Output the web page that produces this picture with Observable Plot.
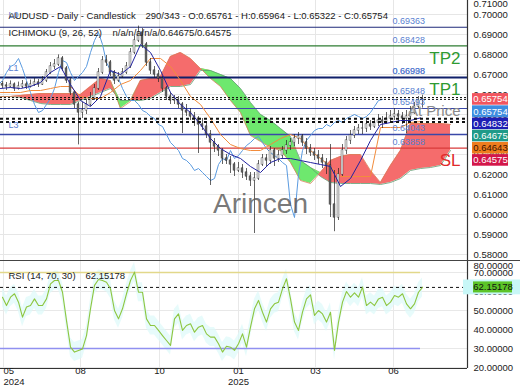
<!DOCTYPE html>
<html><head><meta charset="utf-8">
<script src="https://cdn.jsdelivr.net/npm/d3@7"></script>
<script src="https://cdn.jsdelivr.net/npm/@observablehq/plot@0.6"></script>
<style>
body{margin:0;background:#fff;font-family:"Liberation Sans",Arial,sans-serif;}
#wrap{width:520px;height:390px;overflow:hidden;}
#rsi{border-top:1px solid #444;}
svg{display:block;}
</style></head><body><div id="wrap"><div id="main"></div><div id="rsi"></div></div>
<script>
// ---------- DATA ----------
const closes = [
0.6645,0.6640,0.6650,0.6630,0.6640,0.6650,0.6640,0.6650,0.6660,0.6650,
0.6670,0.6710,0.6740,0.6750,0.6780,0.6730,0.6670,0.6610,0.6550,0.6510,
0.6520,0.6550,0.6580,0.6630,0.6710,0.6770,0.6760,0.6710,0.6670,0.6690,
0.6710,0.6740,0.6810,0.6870,0.6910,0.6850,0.6760,0.6720,0.6700,0.6680,
0.6630,0.6590,0.6570,0.6570,0.6550,0.6520,0.6510,0.6490,0.6480,0.6450,
0.6440,0.6400,0.6360,0.6340,0.6320,0.6280,0.6270,0.6250,0.6220,0.6230,
0.6210,0.6190,0.6170,0.6180,0.6250,0.6280,0.6270,0.6320,0.6280,0.6295,
0.6320,0.6345,0.6360,0.6380,0.6390,0.6360,0.6330,0.6310,0.6295,0.6280,
0.6260,0.6245,0.6050,0.5985,0.6200,0.6320,0.6370,0.6395,0.6420,0.6430,
0.6430,0.6450,0.6440,0.6460,0.6470,0.6460,0.6480,0.6490,0.6500,0.6490,
0.6480,0.6490,0.6510,0.6540,0.6570,0.65754];
const opens = [
0.6652,0.6645,0.6640,0.6650,0.6630,0.6640,0.6650,0.6640,0.6650,0.6660,
0.6650,0.6670,0.6710,0.6740,0.6750,0.6780,0.6730,0.6670,0.6610,0.6550,
0.6510,0.6520,0.6550,0.6580,0.6630,0.6710,0.6770,0.6760,0.6710,0.6670,
0.6690,0.6710,0.6740,0.6810,0.6870,0.6910,0.6850,0.6760,0.6720,0.6700,
0.6680,0.6630,0.6590,0.6570,0.6570,0.6550,0.6520,0.6510,0.6490,0.6480,
0.6450,0.6440,0.6400,0.6360,0.6340,0.6320,0.6280,0.6270,0.6250,0.6220,
0.6230,0.6210,0.6190,0.6170,0.6180,0.6250,0.6280,0.6270,0.6320,0.6280,
0.6295,0.6320,0.6345,0.6360,0.6380,0.6390,0.6360,0.6330,0.6310,0.6295,
0.6280,0.6260,0.6245,0.6050,0.5985,0.6200,0.6320,0.6370,0.6395,0.6420,
0.6430,0.6430,0.6450,0.6440,0.6460,0.6470,0.6460,0.6480,0.6490,0.6500,
0.6490,0.6480,0.6490,0.6510,0.6540,0.65761];
const highs = [
0.6665,0.6660,0.6668,0.6658,0.6662,0.6670,0.6662,0.6672,0.6680,0.6675,
0.6690,0.6725,0.6760,0.6775,0.6798,0.6790,0.6740,0.6680,0.6620,0.6560,
0.6560,0.6575,0.6610,0.6650,0.6730,0.6790,0.6795,0.6770,0.6720,0.6710,
0.6730,0.6760,0.6830,0.6890,0.6942,0.6930,0.6860,0.6780,0.6740,0.6720,
0.6690,0.6640,0.6610,0.6595,0.6590,0.6560,0.6550,0.6530,0.6510,0.6490,
0.6480,0.6460,0.6420,0.6380,0.6350,0.6330,0.6300,0.6290,0.6260,0.6260,
0.6250,0.6230,0.6210,0.6210,0.6270,0.6300,0.6300,0.6340,0.6330,0.6320,
0.6340,0.6370,0.6380,0.6400,0.6410,0.6400,0.6380,0.6350,0.6330,0.6320,
0.6300,0.6280,0.6350,0.6220,0.6230,0.6350,0.6390,0.6420,0.6440,0.6450,
0.6460,0.6470,0.6470,0.6480,0.6500,0.6490,0.6510,0.6520,0.6530,0.6520,
0.6510,0.6520,0.6540,0.6560,0.6590,0.65964];
const lows = [
0.6630,0.6620,0.6632,0.6615,0.6622,0.6630,0.6625,0.6632,0.6640,0.6635,
0.6645,0.6660,0.6700,0.6725,0.6740,0.6715,0.6655,0.6595,0.6530,0.6348,
0.6480,0.6500,0.6540,0.6570,0.6620,0.6700,0.6740,0.6690,0.6650,0.6660,
0.6680,0.6700,0.6730,0.6800,0.6860,0.6830,0.6740,0.6700,0.6680,0.6660,
0.6610,0.6570,0.6550,0.6550,0.6530,0.6405,0.6490,0.6470,0.6440,0.6305,
0.6420,0.6380,0.6145,0.6310,0.6290,0.6250,0.6250,0.6205,0.6190,0.6210,
0.6180,0.6170,0.6140,0.5905,0.6170,0.6240,0.6240,0.6250,0.6240,0.6260,
0.6280,0.6300,0.6320,0.6340,0.6350,0.6340,0.6300,0.6290,0.6270,0.6250,
0.6230,0.6200,0.5985,0.5914,0.5970,0.6190,0.6300,0.6350,0.6380,0.6400,
0.6400,0.6410,0.6420,0.6430,0.6440,0.6430,0.6450,0.6460,0.6470,0.6460,
0.6450,0.6405,0.6480,0.6500,0.6530,0.65322];

// Ichimoku lines, sampled every 2.5 candles
const tenkan = [
0.6630,0.6635,0.6630,0.6640,0.6660,0.6710,0.6740,0.6650,0.6570,0.6540,
0.6590,0.6720,0.6700,0.6740,0.6850,0.6810,0.6720,0.6610,0.6550,0.6510,
0.6450,0.6380,0.6330,0.6300,0.6280,0.6240,0.6210,0.6260,0.6280,0.6280,
0.6270,0.6260,0.6250,0.6240,0.6140,0.6180,0.6270,0.6370,0.6450,0.6460,
0.6470,0.6470,0.64832];
const kijun = [
0.6610,0.6610,0.6610,0.6620,0.6620,0.6630,0.6640,0.6640,0.6590,0.6580,
0.6580,0.6610,0.6650,0.6670,0.6720,0.6780,0.6780,0.6740,0.6670,0.6590,
0.6550,0.6480,0.6400,0.6350,0.6330,0.6320,0.6320,0.6350,0.6380,0.6400,
0.6380,0.6320,0.6280,0.6240,0.6190,0.6190,0.6190,0.6190,0.6435,0.6435,
0.6435,0.6460,0.64643];
const spanA = [
0.6590,0.6590,0.6585,0.6570,0.6555,0.6550,0.6550,0.6550,0.6570,0.6590,
0.6610,0.6630,0.6570,0.6570,0.6570,0.6580,0.6610,0.6640,0.6640,0.6650,
0.6720,0.6720,0.6700,0.6680,0.6630,0.6560,0.6500,0.6470,0.6430,0.6390,
0.6270,0.6235,0.6190,0.6160,0.6155,0.6155,0.6155,0.6155,0.6150,0.6160,
0.6180,0.6220,0.6230,0.6235,0.6245,0.6320];
const spanB = [
0.6590,0.6590,0.6595,0.6600,0.6605,0.6605,0.6605,0.6605,0.6600,0.6640,
0.6680,0.6670,0.6530,0.6565,0.6670,0.6680,0.6690,0.6790,0.6810,0.6780,
0.6730,0.6680,0.6640,0.6570,0.6510,0.6395,0.6365,0.6335,0.6320,0.6260,
0.6170,0.6155,0.6210,0.6270,0.6290,0.6300,0.6300,0.6220,0.6160,0.6245,
0.6320,0.6455,0.6455,0.6455,0.6455,0.6450];
const chikouShift = 10; // 26 daily bars

const rsi = [
57.0,52.6,57.0,58.8,54.4,46.5,51.8,52.6,56.1,52.6,
52.6,56.1,64.0,65.8,65.8,59.6,44.7,30.7,28.1,29.0,
29.8,36.8,50.9,63.2,66.3,65.8,64.9,61.4,50.0,45.6,
50.9,58.8,65.8,70.2,59.6,59.6,45.6,42.1,42.1,39.5,
36.8,34.2,31.6,45.6,48.2,39.5,42.1,43.0,38.6,41.2,
42.1,37.7,36.0,36.0,32.5,28.1,31.2,30.7,29.0,32.5,
37.7,30.7,41.2,50.9,55.3,49.1,43.9,50.9,53.5,54.4,
61.4,66.7,56.1,43.9,39.5,49.1,56.1,58.2,47.4,50.0,
48.2,43.9,49.1,29.0,43.9,54.4,60.0,57.0,59.3,57.0,
62.3,52.6,54.4,52.6,56.1,57.0,52.6,54.4,57.9,57.0,
58.8,53.5,50.9,53.5,59.6,62.15178];

// horizontal levels
const solidLevels = [0.69363, 0.68428, 0.66850, 0.65300, 0.64000, 0.63320];
const dottedThin = [0.65848, 0.65754];
const dottedThick = [0.64790, 0.64620];
const levelLabelText = ["0.69363","0.68428","0.66998","0.66938","0.65848","0.65493","0.64043","0.63858"];
const levelLabelAt = [0.69363, 0.68428, 0.66850, 0.66850, 0.65848, 0.65300, 0.64000, 0.63320];
const markerValues = [0.65754, 0.65754, 0.64832, 0.64675, 0.64643, 0.64575];
const rsiLast = 62.15178;

const monthTickBars = [0.25, 19.5, 39.25, 59, 78.25, 97.75];
const monthLabels = ["05","08","10","01","03","06"];
const yearLabels = ["2024","","","2025","",""];
const priceTicks = [0.58,0.59,0.60,0.61,0.62,0.63,0.64,0.65,0.66,0.67,0.68,0.69,0.70];
const rsiTicks = [20,30,40,50,60,70];

// ---------- LAYOUT ----------
const W = 520, MR = 53, MAINH = 260, RSIH = 129;
const xDomain = [-0.5, 116.25];
const yDomain = [0.577, 0.707];
const rsiDomain = [19.47, 75.79];
const FONT = "'Liberation Sans', Arial, sans-serif";
const style = {fontFamily: FONT, fontSize: "9.5px", background: "#fff", overflow: "hidden"};
const xs = Plot.scale({x: {domain: xDomain, range: [0, W - MR]}});
const ys = Plot.scale({y: {domain: yDomain, range: [MAINH, 0]}});
const fmt5 = d3.format(".5f");

const candles = closes.map((c, i) => ({i, c, o: opens[i], h: highs[i], l: lows[i]}));
const ichi = tenkan.map((t, k) => ({b: k * 2.5 - 0.5, t, kj: kijun[k]}));
const cloud = spanA.map((a, k) => ({b: k * 2.5 - 0.5, a, s: spanB[k]}));
const chikou = closes.map((c, i) => ({b: i - chikouShift, c}));

const markerFill = ["#f2555f", "#3d8de0", "#1e1eb4", "#1f9a88", "#ee7d1e", "#d3174a"];
const markerText = ["#fff", "#fff", "#fff", "#fff", "#3a1200", "#fff"];
let prev = -Infinity;
const boxes = markerValues.map((v, i) => {
  const p = Math.max(ys.apply(v), prev + 12.2); prev = p;
  return {v, p, i};
});
const solidStroke = ["#1f2a7a", "#2e7d32", "#10206a", "#3a48a8", "#3a48a8", "#d83a3a"];
const solidWidth = [1.2, 1.2, 2.2, 1, 1.3, 1.3];

const main = Plot.plot({
  width: W, height: MAINH, marginLeft: 0, marginRight: MR, marginTop: 0, marginBottom: 0,
  x: {domain: xDomain, axis: null},
  y: {domain: yDomain, axis: null},
  color: {type: "identity"},
  style,
  marks: [
    Plot.ruleY(priceTicks, {stroke: "#e6e6e6"}),
    Plot.ruleX(monthTickBars, {stroke: "#e6e6e6"}),
    // cloud
    Plot.areaY(cloud, {x: "b", y1: "a", y2: d => Math.max(d.a, d.s), fill: "#f56c6c", clip: true}),
    Plot.areaY(cloud, {x: "b", y1: "s", y2: d => Math.max(d.a, d.s), fill: "#6ee86e", clip: true}),
    Plot.line(cloud, {x: "b", y: "a", stroke: "#5e9a6e", strokeWidth: 0.8, clip: true}),
    Plot.line(cloud, {x: "b", y: "s", stroke: "#d9805a", strokeWidth: 0.8, clip: true}),
    // levels
    ...solidLevels.map((v, i) => Plot.ruleY([v], {stroke: solidStroke[i], strokeWidth: solidWidth[i]})),
    // ichimoku lines
    Plot.line(chikou, {x: "b", y: "c", stroke: "#5b9be0", strokeWidth: 1, clip: true}),
    Plot.line(ichi, {x: "b", y: "kj", stroke: "#f28c3c", strokeWidth: 1, clip: true}),
    // candles
    Plot.ruleX(candles, {x: "i", y1: "l", y2: "h", stroke: "#222", strokeWidth: 0.7}),
    Plot.rect(candles, {x1: d => d.i - 0.24, x2: d => d.i + 0.24,
      y1: d => Math.min(d.o, d.c) - 0.00008, y2: d => Math.max(d.o, d.c) + 0.00008,
      fill: d => d.c >= d.o ? "#f4f4f4" : "#6a6a6a", stroke: "#222", strokeWidth: 0.4}),
    Plot.line(ichi, {x: "b", y: "t", stroke: "#2323a0", strokeWidth: 1, clip: true}),
    // dotted levels
    Plot.ruleY(dottedThin, {stroke: "#111", strokeWidth: 1, strokeDasharray: "2,2"}),
    Plot.ruleY(dottedThick, {stroke: "#111", strokeWidth: 2, strokeDasharray: "3,3"}),
    // level labels
    Plot.text(levelLabelAt, {y: d => d, text: (d, i) => levelLabelText[i], frameAnchor: "right",
      dx: -75, dy: -6, textAnchor: "start", fill: "#5a7fd0", fontSize: 9}),
    Plot.text(["L0", "L1", "L3"], {y: [0.6995, 0.6730, 0.6445], text: d => d, frameAnchor: "left",
      dx: 8, textAnchor: "start", fill: "#5a7fd0", fontSize: 9}),
    // annotations
    Plot.text(["TP2"], {y: [0.6780], text: d => d, frameAnchor: "right", dx: -7, textAnchor: "end", fill: "#2e9a32", fontSize: 17}),
    Plot.text(["TP1"], {y: [0.6625], text: d => d, frameAnchor: "right", dx: -7, textAnchor: "end", fill: "#2e9a32", fontSize: 17}),
    Plot.text(["SL"], {y: [0.6270], text: d => d, frameAnchor: "right", dx: -7, textAnchor: "end", fill: "#e02a2a", fontSize: 17}),
    Plot.text(["At Price"], {y: [0.6515], text: d => d, frameAnchor: "right", dx: -7, textAnchor: "end", fill: "#8a8a8a", fontSize: 15}),
    Plot.text(["Arincen"], {text: d => d, frameAnchor: "top-left", dx: 260, dy: 193, textAnchor: "middle", fill: "#555", fillOpacity: 0.8, fontSize: 28}),
    // header
    Plot.text(["AUDUSD - Daily - Candlestick"], {text: d => d, frameAnchor: "top-left", dx: 8, dy: 12, textAnchor: "start", fill: "#1a1a1a"}),
    Plot.text(["290/343 - O:0.65761 - H:0.65964 - L:0.65322 - C:0.65754"], {text: d => d, frameAnchor: "top-left", dx: 145, dy: 12, textAnchor: "start", fill: "#1a1a1a"}),
    Plot.text(["ICHIMOKU (9, 26, 52)"], {text: d => d, frameAnchor: "top-left", dx: 8, dy: 29, textAnchor: "start", fill: "#1a1a1a"}),
    Plot.text(["n/a/n/a/n/a/0.64675/0.64575"], {text: d => d, frameAnchor: "top-left", dx: 112, dy: 29, textAnchor: "start", fill: "#1a1a1a"}),
    // right axis
    Plot.text(priceTicks, {y: d => d, text: d => fmt5(d), frameAnchor: "right", dx: 6, textAnchor: "start", fill: "#222"}),
    Plot.text(["0.71000"], {text: d => d, frameAnchor: "top-right", dx: 6, dy: 0, textAnchor: "start", fill: "#222"}),
    Plot.ruleX([xDomain[1]], {stroke: "#333", strokeWidth: 1.2}),
    // price marker boxes
    Plot.rect(boxes, {x1: () => xs.invert(472), x2: () => xs.invert(508),
      y1: d => ys.invert(d.p + 5.8), y2: d => ys.invert(d.p - 5.8), fill: d => markerFill[d.i]}),
    Plot.text(boxes, {x: () => xs.invert(490), y: d => ys.invert(d.p), text: d => fmt5(d.v),
      fill: d => markerText[d.i], textAnchor: "middle"})
  ]
});
document.getElementById("main").appendChild(main);

// ---------- RSI ----------
const rsiRows = rsi.map((r, i) => ({i, r}));
const rsiPlot = Plot.plot({
  width: W, height: RSIH, marginLeft: 0, marginRight: MR, marginTop: 0, marginBottom: 22,
  x: {domain: xDomain, axis: null},
  y: {domain: rsiDomain, axis: null},
  color: {type: "identity"},
  style,
  marks: [
    Plot.ruleY(rsiTicks, {stroke: "#e8e8e8"}),
    Plot.ruleX(monthTickBars, {stroke: "#e8e8e8"}),
    Plot.areaY(rsiRows, {x: "i", y1: d => d.r - 5, y2: d => d.r + 5, fill: "#ddf9f9", fillOpacity: 0.7}),
    Plot.ruleY([70], {x1: -0.5, x2: rsi.length - 1.5, stroke: "#e2d88a", strokeWidth: 1.5}),
    Plot.ruleY([30], {x1: -0.5, x2: rsi.length - 1.5, stroke: "#9090f0", strokeWidth: 1.5}),
    Plot.ruleY([rsiLast], {stroke: "#111", strokeWidth: 1, strokeDasharray: "3,3"}),
    Plot.line(rsiRows, {x: "i", y: "r", stroke: "#8dc63f", strokeWidth: 1.1}),
    Plot.text(["RSI (14, 70, 30)"], {text: d => d, frameAnchor: "top-left", dx: 8, dy: 11, textAnchor: "start", fill: "#1a1a1a"}),
    Plot.text([rsiLast], {text: d => fmt5(d), frameAnchor: "top-left", dx: 85, dy: 11, textAnchor: "start", fill: "#1a1a1a"}),
    Plot.text(rsiTicks, {y: d => d, text: d => fmt5(d), frameAnchor: "right", dx: 6, textAnchor: "start", fill: "#222"}),
    Plot.text(["80.00000"], {text: d => d, frameAnchor: "top-right", dx: 6, dy: 1, textAnchor: "start", fill: "#222"}),
    Plot.ruleX([xDomain[1]], {stroke: "#333", strokeWidth: 1.2}),
    Plot.ruleY([rsiDomain[0]], {stroke: "#333", strokeWidth: 1.2}),
    Plot.rect([rsiLast], {x1: () => xs.invert(463), x2: () => xs.invert(520),
      y1: d => d - 3.9, y2: d => d + 3.9, fill: "#c8f7f7"}),
    Plot.rect([rsiLast], {x1: () => xs.invert(473), x2: () => xs.invert(512),
      y1: d => d - 2.9, y2: d => d + 2.9, fill: "#5cc428"}),
    Plot.text([rsiLast], {x: () => xs.invert(492.5), y: d => d, text: d => fmt5(d), fill: "#111", textAnchor: "middle"}),
    // month axis
    Plot.text(monthTickBars.slice(0, 1), {x: d => d, text: (d, i) => monthLabels[i], frameAnchor: "bottom", dy: 5, textAnchor: "start", fill: "#222"}),
    Plot.text(monthTickBars.slice(1), {x: d => d, text: (d, i) => monthLabels[i + 1], frameAnchor: "bottom", dy: 5, textAnchor: "middle", fill: "#222"}),
    Plot.text(monthTickBars.slice(0, 1), {x: d => d, text: (d, i) => yearLabels[i], frameAnchor: "bottom", dy: 16, textAnchor: "start", fill: "#222"}),
    Plot.text(monthTickBars.slice(1), {x: d => d, text: (d, i) => yearLabels[i + 1], frameAnchor: "bottom", dy: 16, textAnchor: "middle", fill: "#222"})
  ]
});
document.getElementById("rsi").appendChild(rsiPlot);
</script>
</body></html>
